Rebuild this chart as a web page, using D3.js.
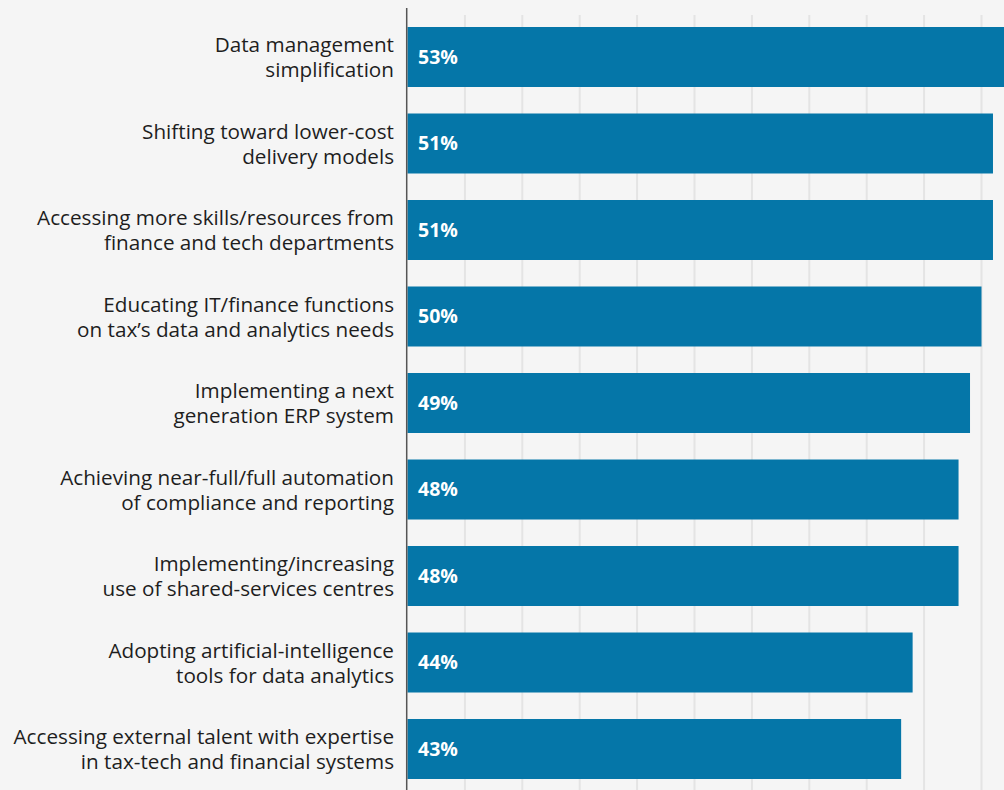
<!DOCTYPE html>
<html>
<head>
<meta charset="utf-8">
<script src="https://cdn.jsdelivr.net/npm/d3@7"></script>
<style>
  html, body { margin: 0; padding: 0; background: #f5f5f5; }
  svg { display: block; }
</style>
</head>
<body>
<div id="chart"></div>
<script>
// Survey answers: each category label is split over two lines
const labelLine1 = [
  "Data management",
  "Shifting toward lower-cost",
  "Accessing more skills/resources from",
  "Educating IT/finance functions",
  "Implementing a next",
  "Achieving near-full/full automation",
  "Implementing/increasing",
  "Adopting artificial-intelligence",
  "Accessing external talent with expertise"
];
const labelLine2 = [
  "simplification",
  "delivery models",
  "finance and tech departments",
  "on tax\u2019s data and analytics needs",
  "generation ERP system",
  "of compliance and reporting",
  "use of shared-services centres",
  "tools for data analytics",
  "in tax-tech and financial systems"
];
const values = [53, 51, 51, 50, 49, 48, 48, 44, 43];
const gridTicks = [5, 10, 15, 20, 25, 30, 35, 40, 45, 50];

const W = 1004, H = 790;
const rows = values.map((v, i) => ({ id: i, value: v, l1: labelLine1[i], l2: labelLine2[i] }));

const svg = d3.select("#chart").append("svg")
  .attr("width", W).attr("height", H);

svg.append("rect").attr("width", W).attr("height", H).attr("fill", "#f5f5f5");

const x = d3.scaleLinear().domain([0, 100]).range([407.5, 407.5 + 1148]);
const y = d3.scaleBand().domain(rows.map(d => d.id))
  .range([27, 779]).paddingInner(0.3064).paddingOuter(0);

// vertical gridlines
svg.append("g")
  .selectAll("line").data(gridTicks).join("line")
  .attr("x1", d => x(d)).attr("x2", d => x(d))
  .attr("y1", 15).attr("y2", H)
  .attr("stroke", "#e4e4e4").attr("stroke-width", 2);

// bars
svg.append("g")
  .selectAll("rect").data(rows).join("rect")
  .attr("x", x(0))
  .attr("y", d => y(d.id))
  .attr("width", d => x(d.value) - x(0))
  .attr("height", y.bandwidth())
  .attr("fill", "#0576a8");

// value labels inside bars
svg.append("g")
  .selectAll("text").data(rows).join("text")
  .attr("x", x(0) + 10.5)
  .attr("y", d => y(d.id) + y.bandwidth() / 2)
  .attr("dy", "0.35em")
  .attr("fill", "#ffffff")
  .attr("font-family", "'Open Sans', sans-serif")
  .attr("font-weight", 700)
  .attr("font-size", 19.5)
  .text(d => d.value + "%");

// category labels
const lab = svg.append("g")
  .selectAll("text").data(rows).join("text")
  .attr("text-anchor", "end")
  .attr("fill", "#1e1e1e")
  .attr("font-family", "'Open Sans', sans-serif")
  .attr("font-size", 20.7);
lab.append("tspan")
  .attr("x", 394)
  .attr("y", d => y(d.id) + y.bandwidth() / 2 - 4.7)
  .text(d => d.l1);
lab.append("tspan")
  .attr("x", 394)
  .attr("y", d => y(d.id) + y.bandwidth() / 2 + 20.3)
  .text(d => d.l2);

// category axis line
svg.append("line")
  .attr("x1", 406.7).attr("x2", 406.7)
  .attr("y1", 8).attr("y2", H)
  .attr("stroke", "#555555").attr("stroke-width", 1.5);
</script>
</body>
</html>
